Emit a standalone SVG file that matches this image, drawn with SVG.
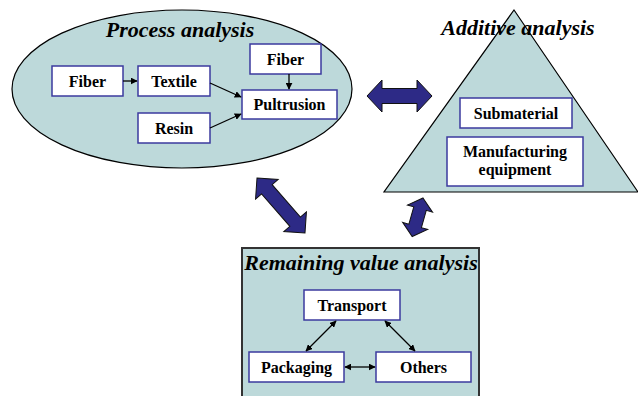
<svg xmlns="http://www.w3.org/2000/svg" width="638" height="396" viewBox="0 0 638 396">
<style>
.area{fill:#BDD9DA;stroke:#000;stroke-width:1.2}
.box{fill:#fff;stroke:#3B3A9E;stroke-width:1.5}
.lbl{font-family:'Liberation Serif','DejaVu Serif',serif;font-weight:bold;font-size:16px;fill:#000;text-anchor:middle}
.ttl{font-family:'Liberation Serif','DejaVu Serif',serif;font-weight:bold;font-style:italic;font-size:22px;fill:#000;text-anchor:middle}
.con{stroke:#000;stroke-width:1.3;fill:none}
.big{fill:#2D2A86;stroke:#111;stroke-width:1}
</style>
<defs>
<marker id="ah" viewBox="0 0 10 10" refX="9" refY="5" markerWidth="7" markerHeight="7" markerUnits="userSpaceOnUse" orient="auto-start-reverse">
<path d="M0,0 L10,5 L0,10 z" fill="#000"/>
</marker>
</defs>

<g id="process-analysis">
<ellipse class="area" cx="182" cy="89" rx="170" ry="79"/>
<text class="ttl" x="180" y="37">Process analysis</text>
</g>
<g id="fiber1"><rect class="box" x="52" y="66" width="71" height="30"/><text class="lbl" x="87.5" y="87">Fiber</text></g>
<g id="textile"><rect class="box" x="138" y="66" width="72" height="30"/><text class="lbl" x="174" y="87">Textile</text></g>
<g id="fiber2"><rect class="box" x="250" y="44" width="71" height="30"/><text class="lbl" x="285.5" y="65">Fiber</text></g>
<g id="pultrusion"><rect class="box" x="242" y="90" width="95" height="29"/><text class="lbl" x="289.5" y="110">Pultrusion</text></g>
<g id="resin"><rect class="box" x="138" y="113" width="72" height="30"/><text class="lbl" x="174" y="134">Resin</text></g>

<g id="additive-analysis">
<polygon class="area" points="514,10 638,192 384,192"/>
<text class="ttl" x="518" y="35">Additive analysis</text>
</g>
<g id="submaterial"><rect class="box" x="460" y="98" width="112" height="30"/><text class="lbl" x="516" y="119">Submaterial</text></g>
<g id="equipment"><rect class="box" x="447" y="137" width="136" height="49"/><text class="lbl" x="515" y="157">Manufacturing</text><text class="lbl" x="515" y="175">equipment</text></g>

<g id="remaining-value-analysis">
<rect x="242" y="248" width="237" height="160" fill="#BDD9DA" stroke="#333" stroke-width="2"/>
<text class="ttl" x="361" y="270">Remaining value analysis</text>
</g>
<g id="transport"><rect class="box" x="304" y="290" width="96" height="30"/><text class="lbl" x="352" y="311">Transport</text></g>
<g id="packaging"><rect class="box" x="249" y="352" width="95" height="30"/><text class="lbl" x="296.5" y="373">Packaging</text></g>
<g id="others"><rect class="box" x="376" y="352" width="95" height="30"/><text class="lbl" x="423.5" y="373">Others</text></g>

<g id="connectors">
<line class="con" x1="123" y1="81" x2="137" y2="81" marker-end="url(#ah)"/>
<line class="con" x1="210" y1="83" x2="241" y2="97" marker-end="url(#ah)"/>
<line class="con" x1="210" y1="128" x2="241" y2="114" marker-end="url(#ah)"/>
<line class="con" x1="289" y1="74" x2="289" y2="89" marker-end="url(#ah)"/>
<line class="con" x1="336" y1="321" x2="306" y2="351" marker-start="url(#ah)" marker-end="url(#ah)"/>
<line class="con" x1="385" y1="321" x2="415" y2="351" marker-start="url(#ah)" marker-end="url(#ah)"/>
<line class="con" x1="345" y1="367" x2="375" y2="367" marker-start="url(#ah)" marker-end="url(#ah)"/>
<polygon class="big" points="0,0 15,-16 15,-7.5 50,-7.5 50,-16 65,0 50,16 50,7.5 15,7.5 15,16" transform="translate(367,96)"/>
<polygon class="big" points="0,0 15,-15 15,-7 58,-7 58,-15 73,0 58,15 58,7 15,7 15,15" transform="translate(257,178) rotate(48.9)"/>
<polygon class="big" points="0,0 11,-13 11,-6.5 29,-6.5 29,-13 40,0 29,13 29,6.5 11,6.5 11,13" transform="translate(423,198) rotate(105.7)"/>
</g>
</svg>
